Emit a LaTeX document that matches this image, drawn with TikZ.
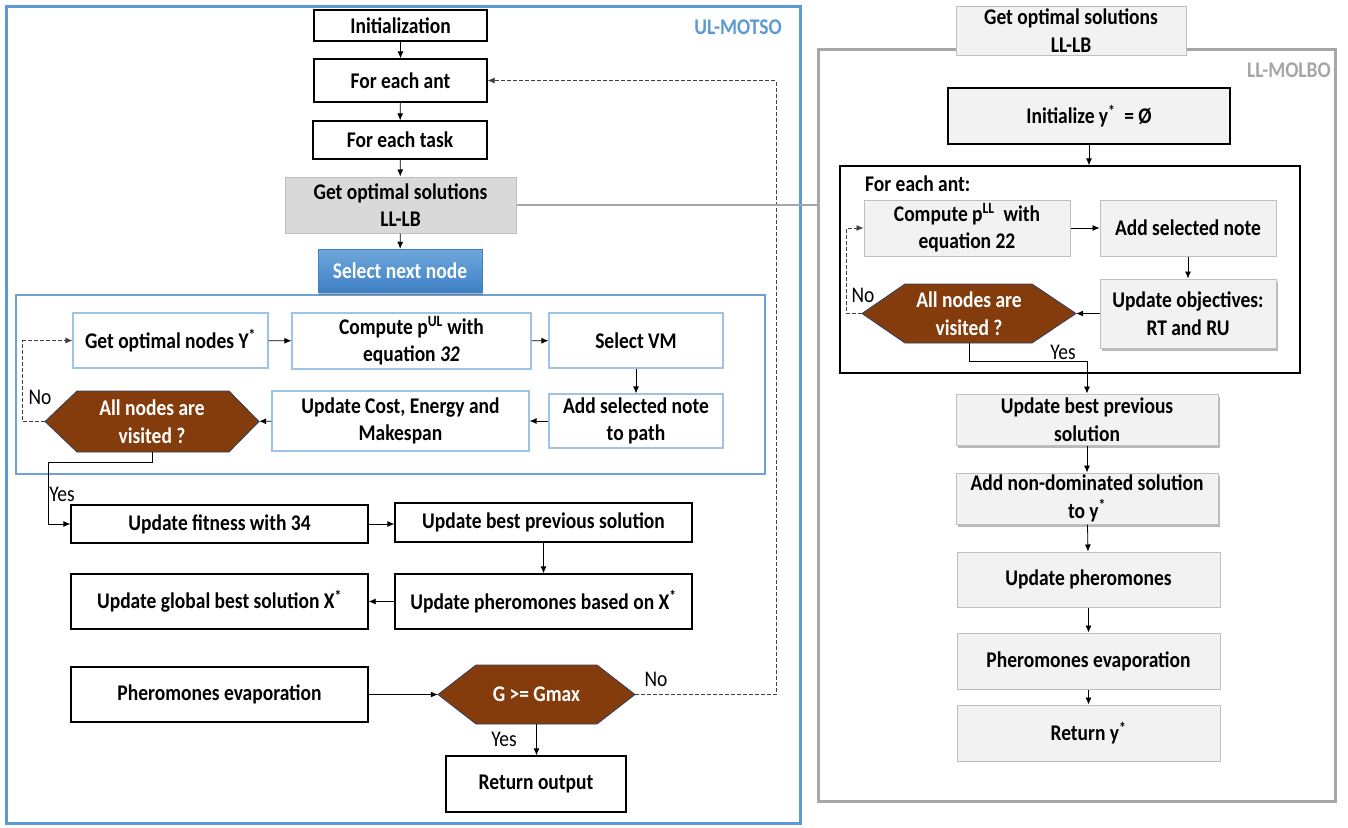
\documentclass[tikz,border=0pt]{standalone}
\usepackage{fontspec}
\setmainfont{Carlito}[FakeStretch=0.87]
\usetikzlibrary{arrows.meta,shadows}
\definecolor{ulblue}{HTML}{5B9BD5}
\definecolor{inblue}{HTML}{6FA0D6}
\definecolor{lbord}{HTML}{9DC3E6}
\definecolor{hexbrown}{HTML}{843C0C}
\definecolor{hexedge}{HTML}{2F3F5F}
\definecolor{ggray}{HTML}{A6A6A6}
\definecolor{lgfill}{HTML}{F2F2F2}
\definecolor{dgfill}{HTML}{D9D9D9}
\definecolor{gbord}{HTML}{BFBFBF}
\definecolor{seltop}{HTML}{6FA8DC}
\definecolor{selbot}{HTML}{3F80C6}
\tikzset{
 txt/.style={font=\fontsize{22.4}{27.5}\selectfont\bfseries, align=center, inner sep=0pt},
 bbox/.style={txt, draw=black, line width=1.3pt, fill=white},
 lbbox/.style={txt, draw=lbord, line width=1.2pt, fill=white},
 gbox/.style={txt, draw=gbord, line width=1pt, fill=lgfill},
 shbox/.style={gbox, drop shadow={shadow xshift=1.5pt, shadow yshift=-2.5pt, opacity=0.45, fill=black!60}},
 frame/.style={inner sep=0pt},
 arr/.style={-{Latex[length=7pt,width=6pt]}, line width=0.8pt},
 darr/.style={arr, dash pattern=on 4pt off 2pt, draw=black!75},
 lbl/.style={font=\fontsize{22.4}{26}\selectfont, inner sep=0pt},
 hextxt/.style={txt, text=white},
 hexshape/.style={fill=hexbrown, draw=hexedge, line width=0.8pt},
}
\newcommand{\bx}[7]{\node[#6, minimum width={(#4)-(#2)}, minimum height={(#5)-(#3)}] (#1) at ({((#2)+(#4))/2},{((#3)+(#5))/2}) {#7};}
% name, xl, xtl, xtr, xr, yt, yb, text
\newcommand{\hexa}[8]{%
 \path[hexshape] (#2,{((#6)+(#7))/2}) -- (#3,#6) -- (#4,#6) -- (#5,{((#6)+(#7))/2}) -- (#4,#7) -- (#3,#7) -- cycle;
 \node[hextxt, minimum width={(#5)-(#2)}, minimum height={(#7)-(#6)}] (#1) at ({((#2)+(#5))/2},{((#6)+(#7))/2}) {#8};}
\begin{document}
\begin{tikzpicture}[x=1pt,y=-1pt]
\useasboundingbox (0,0) rectangle (1348,827);
% ---------- left panel ----------
\bx{ul}{6}{6}{800}{823}{frame, draw=ulblue, line width=3pt}{}
\node[txt, text=ulblue, anchor=east] (ullbl) at (782,27) {UL-MOTSO};
\bx{init}{314}{10}{487}{41}{bbox}{Initialization}
\bx{ant}{314}{59}{487}{102}{bbox}{For each ant}
\bx{task}{313}{121}{487}{159}{bbox}{For each task}
\bx{gl}{285}{177}{516}{233}{txt, fill=dgfill, draw=gbord, line width=1pt}{Get optimal solutions\\LL-LB}
\bx{ibx}{16}{295}{765}{474}{frame, draw=inblue, line width=1.5pt}{}
\bx{sel}{318}{249}{482}{292}{txt, text=white, top color=seltop, bottom color=selbot, draw=selbot, line width=0.5pt, drop shadow={shadow xshift=1pt, shadow yshift=-3pt, opacity=0.4, fill=black!70}}{Select next node}
\bx{gon}{73}{313}{268}{368}{lbbox}{Get optimal nodes Y\textsuperscript{*}}
\bx{cmp}{292}{313}{531}{369}{lbbox}{Compute p\textsuperscript{UL} with\\equation \textit{32}}
\bx{svm}{549}{313}{723}{368}{lbbox}{Select VM}
\bx{add}{549}{394}{723}{448}{lbbox}{Add selected note\\to path}
\bx{upd}{272}{391}{529}{451}{lbbox}{Update Cost, Energy and\\Makespan}
\hexa{h1}{45}{77}{229}{259}{391}{452}{All nodes are\\visited ?}
\bx{fit}{71}{505}{368}{543}{bbox}{Update fitness with 34}
\bx{ubp}{395}{503}{692}{542}{bbox}{Update best previous solution}
\bx{uph}{395}{574}{692}{629}{bbox}{Update pheromones based on X\textsuperscript{*}}
\bx{ugb}{71}{574}{368}{629}{bbox}{Update global best solution X\textsuperscript{*}}
\bx{pev}{71}{667}{368}{722}{bbox}{Pheromones evaporation}
\hexa{h2}{438}{476}{597}{635}{665}{724}{G >= Gmax}
\bx{ret}{446}{756}{626}{812}{bbox}{Return output}
% left connectors
\draw[arr] (init) -- (ant);
\draw[arr] (ant) -- (task);
\draw[arr] (task) -- (gl);
\draw[arr] (gl) -- (sel);
\draw[arr] (gon) -- (cmp);
\draw[arr] (cmp) -- (svm);
\draw[arr] (svm) -- (add);
\draw[arr] (add) -- (upd);
\draw[arr] (upd) -- (h1);
\draw[darr] (h1.west) -- ++(-22,0) |- (gon.west);
\draw[arr] (h1.south) -- ++(0,10) -- ++(-104,0) |- (fit.west);
\draw[arr] (fit.east) -- (fit.east -| ubp.west);
\draw[arr] (ubp) -- (uph);
\draw[arr] (uph) -- (ugb);
\draw[arr] (pev.east) -- (pev.east -| h2.west);
\draw[arr] (h2.south) -- (h2.south |- ret.north);
\draw[darr] (h2.east) -- ++(141,0) |- (ant.east);
\node[lbl] (no1) at (40,397) {No};
\node[lbl] (yes1) at (62,494) {Yes};
\node[lbl] (yes2) at (504,739) {Yes};
\node[lbl] (no2) at (656,679) {No};
% ---------- right panel ----------
\bx{rbox}{818}{49}{1335}{801}{frame, draw=ggray, line width=3pt}{}
\node[txt, text=ggray, anchor=east] (lllbl) at (1331,70) {LL-MOLBO};
\bx{gr}{956}{6}{1186}{55}{gbox}{Get optimal solutions\\LL-LB}
\draw[ggray, line width=2.8pt] (gl.east) -- (gl.east -| rbox.west);
\bx{ini}{948}{88}{1230}{144}{txt, fill=lgfill, draw=black, line width=1.2pt}{Initialize y\textsuperscript{*}\ \ = Ø}
\bx{ib}{840}{166}{1300}{373}{frame, draw=black, line width=1.3pt}{}
\node[txt, anchor=west] (fea) at (865,184) {For each ant:};
\bx{cll}{864}{200}{1070}{256}{gbox}{Compute p\textsuperscript{LL}\ \ with\\equation 22}
\bx{asn}{1100}{200}{1276}{256}{gbox}{Add selected note}
\bx{uobj}{1100}{279}{1276}{348}{shbox}{Update objectives:\\RT and RU}
\hexa{h3}{862}{905}{1032}{1076}{284}{343}{All nodes are\\visited ?}
\bx{ubp2}{956}{394}{1218}{445}{shbox}{Update best previous\\solution}
\bx{and2}{956}{473}{1218}{524}{shbox}{Add non-dominated solution\\to y\textsuperscript{*}}
\bx{uph2}{957}{552}{1220}{607}{gbox}{Update pheromones}
\bx{pev2}{957}{633}{1220}{689}{gbox}{Pheromones evaporation}
\bx{rety}{957}{705}{1220}{761}{gbox}{Return y\textsuperscript{*}}
% right connectors
\draw[arr] (ini.south) -- (ini.south |- ib.north);
\draw[arr] (cll) -- (asn);
\draw[arr] (asn.south) -- (asn.south |- uobj.north);
\draw[arr] (uobj.west) -- (uobj.west -| h3.east);
\draw[darr] (h3.west) -- ++(-15,0) |- (cll.west);
\draw[arr] (h3.south) -- ++(0,18) -| (ubp2.north);
\draw[arr] (ubp2) -- (and2);
\draw[arr] (and2) -- (uph2);
\draw[arr] (uph2) -- (pev2);
\draw[arr] (pev2) -- (rety);
\node[lbl] (no3) at (863,295) {No};
\node[lbl] (yes3) at (1063,352) {Yes};
\end{tikzpicture}
\end{document}
